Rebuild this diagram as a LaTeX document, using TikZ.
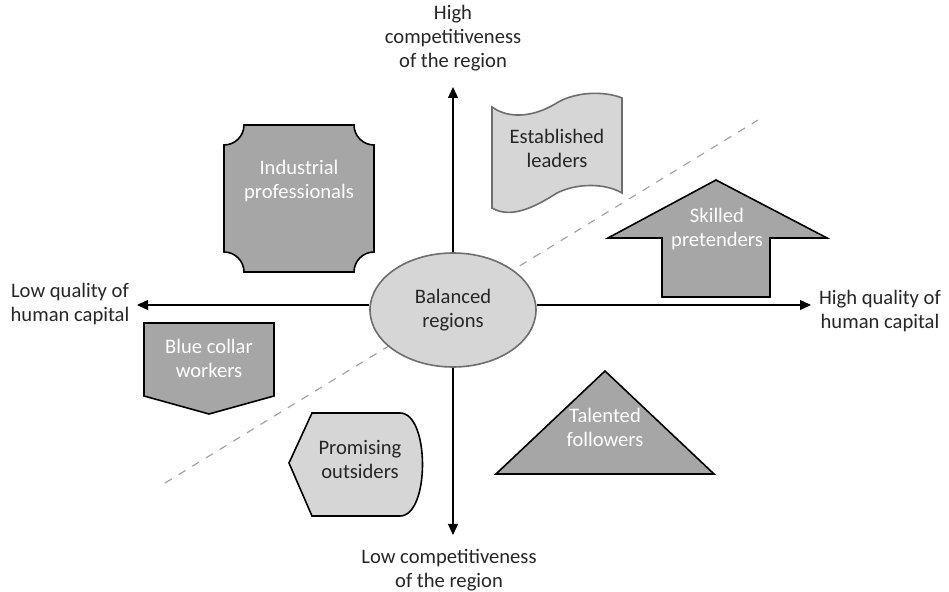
\documentclass[tikz,border=0pt]{standalone}
\usepackage{fontspec}
\setmainfont{Carlito}
\usetikzlibrary{arrows.meta,shapes.geometric}

\definecolor{darkfill}{HTML}{A6A6A6}
\definecolor{lightfill}{HTML}{D6D6D6}
\definecolor{lightedge}{HTML}{6E6E6E}
\definecolor{dashgray}{HTML}{A3A3A3}
\definecolor{inktext}{HTML}{262626}

\begin{document}
\begin{tikzpicture}[x=0.5pt,y=-0.5pt,
    darkshape/.style={fill=darkfill,draw=black,line width=0.8pt},
    lightshape/.style={fill=lightfill,draw=lightedge,line width=0.8pt},
    whitetext/.style={text=white,align=center,font=\lblsize},
    darktext/.style={text=inktext,align=center,font=\lblsize},
    axis/.style={draw=black,line width=0.6pt,-{Triangle[length=5.5pt,width=5pt]}},
    divider/.style={draw=dashgray,line width=0.6pt,dash pattern=on 4pt off 4pt}]
    \providecommand{\lblsize}{\fontsize{10.3}{12}\selectfont}
    \useasboundingbox (0,0) rectangle (949,592);
    % dividing line
    \coordinate (dlow) at (165,483);
    \coordinate (dhigh) at (758,120);
    \draw[divider] (dlow) -- (dhigh);
    % centre
    \node[ellipse,draw=lightedge,fill=lightfill,line width=0.8pt,minimum width=83pt,minimum height=57pt,inner sep=0,darktext] (bal) at (453,310) {Balanced\\regions};
    \coordinate (ttip) at (453,87);
    \coordinate (btip) at (453,535);
    \coordinate (ltip) at (137,305);
    \coordinate (rtip) at (811,305);
    \draw[axis] (bal.north) -- (ttip);
    \draw[axis] (bal.south) -- (btip);
    \draw[axis] (bal.west |- ltip) -- (ltip);
    \draw[axis] (bal.east |- rtip) -- (rtip);
    \node[darktext] (hicomp) at (453,38) {High\\competitiveness\\of the region};
    \node[darktext] (locomp) at (449,570) {Low competitiveness\\of the region};
    \node[darktext] (loqual) at (70,304) {Low quality of\\human capital};
    \node[darktext] (hiqual) at (880,311) {High quality of\\human capital};
    % industrial professionals
    \draw[darkshape] (244,125) -- (354,125) .. controls (354,136) and (363,145) .. (374,145)
        -- (374,252) .. controls (363,252) and (354,261) .. (354,272)
        -- (244,272) .. controls (244,261) and (235,252) .. (224,252)
        -- (224,145) .. controls (235,145) and (244,136) .. (244,125) -- cycle;
    \node[whitetext] (indus) at (299,181) {Industrial\\professionals};
    % established leaders
    \draw[lightshape] (492,107) .. controls (510,120) and (535,116) .. (555,104)
        .. controls (575,91) and (605,91) .. (622,98) -- (622,193)
        .. controls (605,183) and (577,183) .. (557,193)
        .. controls (538,205) and (512,220) .. (492,208) -- cycle;
    \node[darktext] (estab) at (557,148) {Established\\leaders};
    % skilled pretenders
    \draw[darkshape] (716,180) -- (827,238) -- (770,238) -- (770,297) -- (662,297)
        -- (662,238) -- (608,238) -- cycle;
    \node[whitetext] (skill) at (717,229) {Skilled\\pretenders};
    % blue collar workers
    \draw[darkshape] (144,323) -- (274,323) -- (274,396) -- (209,414) -- (144,396) -- cycle;
    \node[whitetext] (blue) at (209,358) {Blue collar\\workers};
    % promising outsiders
    \draw[lightshape,draw=black] (289,463) -- (312,413) -- (400,413)
        .. controls (430,413) and (430,516) .. (400,516) -- (312,516) -- cycle;
    \node[darktext] (promis) at (360,459) {Promising\\outsiders};
    % talented followers
    \draw[darkshape] (605,371) -- (714,474) -- (496,474) -- cycle;
    \node[whitetext] (talent) at (605,427) {Talented\\followers};
\end{tikzpicture}
\end{document}
